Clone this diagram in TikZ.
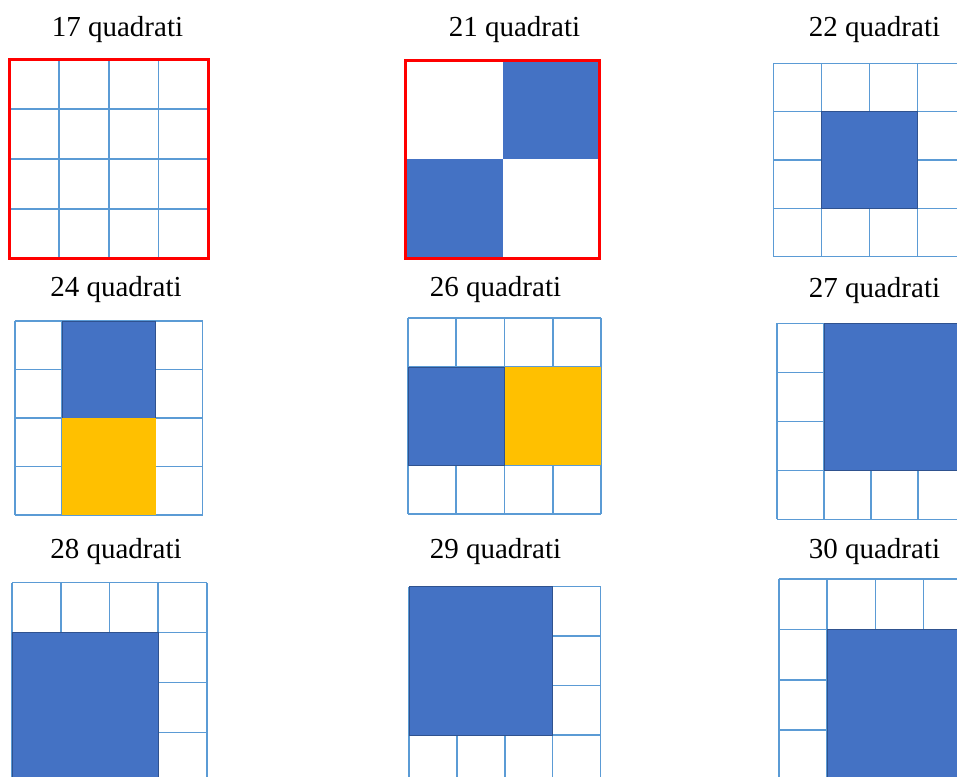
\documentclass[tikz,border=0pt]{standalone}
\usepackage{fontspec}
\setmainfont{Liberation Serif}
\definecolor{gridblue}{HTML}{5B9BD5}
\definecolor{fillblue}{HTML}{4472C4}
\definecolor{edgeblue}{HTML}{2F528F}
\definecolor{fillyellow}{HTML}{FFC000}
\definecolor{borderred}{HTML}{FF0000}
\tikzset{gridline/.style={draw=gridblue,line width=.9pt},
  bluesq/.style={fill=fillblue,draw=edgeblue,line width=.4pt},
  yellowsq/.style={fill=fillyellow},
  redframe/.style={draw=borderred,line width=1.4pt},
  caption/.style={font=\fontsize{16.5}{20}\selectfont,anchor=base,inner sep=0pt}}
\newcommand\cellgrid{\foreach \i in {0,...,4} {\draw[gridline] (\i*\cellw,0)--(\i*\cellw,4*\cellh); \draw[gridline] (0,\i*\cellh)--(4*\cellw,\i*\cellh);}}
\begin{document}
\begin{tikzpicture}[x=.02cm,y=-.02cm]
\useasboundingbox (0,0) rectangle (957,777); \clip (0,0) rectangle (957,777);
% first row
\node[caption] (t17) at (117.5,37) {17 quadrati};
\begin{scope}[shift={(9.3,59.3)}]
\def\cellw{49.75}\def\cellh{49.85} \cellgrid
\draw[redframe] (0,0) rectangle (4*\cellw,4*\cellh);
\end{scope}
\node[caption] (t21) at (514.5,37) {21 quadrati};
\begin{scope}[shift={(405.7,60.7)}]
\def\cellw{96.8}\def\cellh{98.8}
\fill[fillblue] (\cellw,0) rectangle (2*\cellw,\cellh); \fill[fillblue] (0,\cellh) rectangle (\cellw,2*\cellh);
\draw[redframe] (0,0) rectangle (2*\cellw,2*\cellh);
\end{scope}
\node[caption] (t22) at (874.5,37) {22 quadrati};
\begin{scope}[shift={(773.3,63.3)}]
\def\cellw{48.1}\def\cellh{48.35} \cellgrid
\draw[bluesq] (\cellw,\cellh) rectangle (3*\cellw,3*\cellh);
\end{scope}
% second row
\node[caption] (t24) at (116,296) {24 quadrati};
\begin{scope}[shift={(15,321)}]
\def\cellw{46.9}\def\cellh{48.5} \cellgrid
\draw[bluesq] (\cellw,0) rectangle (3*\cellw,2*\cellh); \fill[yellowsq] (\cellw,2*\cellh) rectangle (3*\cellw,4*\cellh);
\end{scope}
\node[caption] (t26) at (495.5,296) {26 quadrati};
\begin{scope}[shift={(408,318)}]
\def\cellw{48.25}\def\cellh{49} \cellgrid
\draw[bluesq] (0,\cellh) rectangle (2*\cellw,3*\cellh); \fill[yellowsq] (2*\cellw,\cellh) rectangle (4*\cellw,3*\cellh);
\end{scope}
\node[caption] (t27) at (874.5,297) {27 quadrati};
\begin{scope}[shift={(777,323.3)}]
\def\cellw{47}\def\cellh{49} \cellgrid
\draw[bluesq] (\cellw,0) rectangle (4*\cellw,3*\cellh);
\end{scope}
% third row
\node[caption] (t28) at (116,558) {28 quadrati};
\begin{scope}[shift={(12,582.5)}]
\def\cellw{48.75}\def\cellh{50} \cellgrid
\draw[bluesq] (0,\cellh) rectangle (3*\cellw,4*\cellh);
\end{scope}
\node[caption] (t29) at (495.5,558) {29 quadrati};
\begin{scope}[shift={(409,586.7)}]
\def\cellw{47.9}\def\cellh{49.4} \cellgrid
\draw[bluesq] (0,0) rectangle (3*\cellw,3*\cellh);
\end{scope}
\node[caption] (t30) at (874.5,558) {30 quadrati};
\begin{scope}[shift={(779,579)}]
\def\cellw{48.2}\def\cellh{50.4} \cellgrid
\draw[bluesq] (\cellw,\cellh) rectangle (4*\cellw,4*\cellh);
\end{scope}
\end{tikzpicture}
\end{document}
